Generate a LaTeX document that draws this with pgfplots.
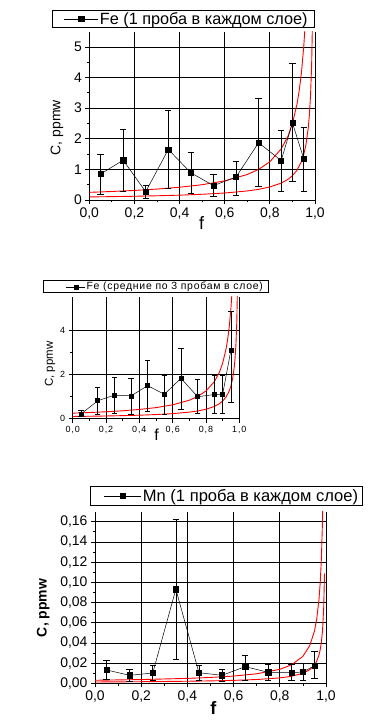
\documentclass[border=0pt]{standalone}
\usepackage{fontspec}
\setmainfont{Liberation Sans}
\usepackage{pgfplots}
\usepackage{pgfplotstable}
\pgfplotsset{compat=1.18}

% Panel 1: Fe, 1 sample per layer
\pgfplotstableread{
x y ep em
0.05 0.85 0.64 0.67
0.15 1.30 1.02 1.00
0.25 0.27 0.22 0.22
0.35 1.65 1.27 1.27
0.45 0.89 0.66 0.67
0.55 0.47 0.37 0.36
0.65 0.75 0.53 0.59
0.75 1.87 1.45 1.41
0.85 1.29 0.98 1.01
0.90 2.52 1.95 1.91
0.95 1.35 1.02 1.05
}\feone

% Panel 2: Fe, mean of 3 samples per layer
\pgfplotstableread{
x y ep em
0.05 0.21 0.15 0.12
0.15 0.81 0.59 0.59
0.25 1.06 0.79 0.82
0.35 1.03 0.78 0.81
0.45 1.49 1.14 1.15
0.55 1.10 0.86 0.89
0.65 1.82 1.37 1.39
0.75 0.99 0.79 0.75
0.85 1.09 0.87 0.85
0.90 1.10 0.86 0.86
0.95 3.10 1.74 2.35
}\fethree

% Panel 3: Mn, 1 sample per layer
\pgfplotstableread{
x y ep em
0.05 0.0132 0.0092 0.0092
0.15 0.0079 0.0059 0.0059
0.25 0.0102 0.0076 0.0076
0.35 0.0932 0.0690 0.0695
0.45 0.0105 0.0073 0.0079
0.55 0.0079 0.0059 0.0059
0.65 0.0165 0.0112 0.0132
0.75 0.0109 0.0082 0.0076
0.85 0.0105 0.0083 0.0072
0.90 0.0112 0.0082 0.0082
0.95 0.0174 0.0142 0.0121
}\mnone

% red curves (Fe)
\pgfplotstableread{
x y
0 0.25
0.1 0.278
0.2 0.3125
0.3 0.357
0.4 0.417
0.5 0.5
0.6 0.625
0.7 0.833
0.75 1.0
0.8 1.25
0.85 1.667
0.88 2.083
0.9 2.5
0.92 3.125
0.93 3.571
0.94 4.167
0.95 5.0
0.955 5.556
0.96 6.25
}\feup
\pgfplotstableread{
x y
0 0.1
0.1 0.11
0.2 0.122
0.3 0.138
0.4 0.158
0.5 0.187
0.6 0.228
0.7 0.296
0.75 0.348
0.8 0.426
0.85 0.551
0.88 0.674
0.9 0.794
0.92 0.971
0.94 1.258
0.95 1.482
0.96 1.812
0.97 2.347
0.975 2.766
0.98 3.381
0.985 4.38
0.99 6.31
}\felow

% red curves (Mn)
\pgfplotstableread{
x y
0 0.003
0.2 0.00371
0.4 0.00487
0.5 0.0058
0.6 0.00716
0.7 0.00942
0.8 0.01384
0.85 0.0182
0.9 0.0267
0.93 0.0375
0.95 0.0517
0.96 0.0638
0.97 0.0839
0.975 0.0998
0.98 0.1233
0.985 0.162
0.99 0.238
}\mnup
\pgfplotstableread{
x y
0 0.0013
0.2 0.00158
0.4 0.00204
0.5 0.00239
0.6 0.00291
0.7 0.00375
0.8 0.00536
0.85 0.0069
0.9 0.00986
0.93 0.0135
0.95 0.0181
0.96 0.0221
0.97 0.0284
0.975 0.0334
0.98 0.0406
0.985 0.0524
0.99 0.0748
0.9935 0.109
}\mnlow

\pgfplotsset{
  panel/.style={
    scale only axis,
    xmin=0, xmax=1, ymin=0,
    axis x line*=bottom, axis y line*=left,
    axis line style={black, line width=0.8bp},
    tick align=outside,
    xtick={0,0.2,0.4,0.6,0.8,1.0},
    minor tick num=1,
    grid=major,
    major grid style={black, line width=0.8bp},
    major tick length=4bp, minor tick length=2.5bp,
    every tick/.style={black, line width=0.8bp},
    /pgf/number format/assume math mode=true,
    /pgf/number format/use comma,
    xticklabel={\pgfmathprintnumber[fixed,fixed zerofill,precision=1,use comma,assume math mode=true]{\tick}},
    legend cell align=left,
  },
  datastyle/.style 2 args={black, line width=0.5bp, mark=square*, mark size=#1, mark options={solid,fill=black},
    error bars/.cd, y dir=both, y explicit,
    error bar style={black, line width=0.6bp},
    error mark options={rotate=90, mark size=#2, black, line width=0.6bp}},
  redcurve/.style={red, line width=0.9bp, no markers, forget plot},
}

\begin{document}
\begin{tikzpicture}
\useasboundingbox (0bp,0bp) rectangle (389bp,728bp);

% ---------- Panel 1 ----------
\begin{axis}[panel,
  at={(89.3bp,528bp)}, anchor=south west,
  width=225.7bp, height=168.3bp,
  ymax=5.5, ytick={0,1,2,3,4,5},
  tick label style={font=\fontsize{14}{16}\selectfont},
  ylabel={C, ppmw}, xlabel={f},
  ylabel style={font=\fontsize{14}{16}\selectfont, at={(axis description cs:-0.143,0.43)}, anchor=center, rotate=0},
  xlabel style={font=\fontsize{18}{20}\selectfont, at={(axis description cs:0.498,-0.137)}, anchor=center},
  legend style={at={(1,1)}, anchor=south east, yshift=3.7bp, draw=black, line width=0.8bp,
    font=\fontsize{16.3}{18}\selectfont, inner xsep=5.5bp, inner ysep=0.5bp, nodes={inner sep=1.5bp}, row sep=0pt},
  legend image code/.code={\path (0bp,0bp); \draw[mark repeat=2,mark phase=2,#1] plot coordinates {(6bp,0bp)(23bp,0bp)(40bp,0bp)};},
]
\addplot[redcurve] table[x=x,y=y] {\feup};
\addplot[redcurve] table[x=x,y=y] {\felow};
\addplot[datastyle={2.6bp}{3.2bp}] table[x=x,y=y,y error plus=ep,y error minus=em] {\feone};
\addlegendentry{Fe (1 проба в каждом слое)}
\end{axis}

% ---------- Panel 2 ----------
\begin{axis}[panel,
  at={(72.7bp,309.3bp)}, anchor=south west,
  width=166.6bp, height=122bp,
  ymax=5.5, ytick={0,2,4},
  tick label style={font=\fontsize{9}{10}\selectfont\addfontfeature{LetterSpace=10}},
  ylabel={C, ppmw}, xlabel={f},
  ylabel style={font=\fontsize{11.5}{13}\selectfont, at={(axis description cs:-0.136,0.448)}, anchor=center, rotate=0},
  xlabel style={font=\fontsize{16}{18}\selectfont, at={(axis description cs:0.504,-0.134)}, anchor=center},
  legend style={at={(1,1)}, anchor=south east, xshift=29bp, yshift=3.4bp, draw=black, line width=0.8bp,
    font=\fontsize{10.5}{12}\selectfont\addfontfeature{LetterSpace=7}, inner xsep=4bp, inner ysep=0.5bp, nodes={inner sep=1bp}, row sep=0pt},
  legend image code/.code={\path (0bp,0bp); \draw[mark repeat=2,mark phase=2,#1] plot coordinates {(19bp,0bp)(28.5bp,0bp)(38bp,0bp)};},
]
\addplot[redcurve] table[x=x,y=y] {\feup};
\addplot[redcurve] table[x=x,y=y] {\felow};
\addplot[datastyle={2bp}{2.6bp}] table[x=x,y=y,y error plus=ep,y error minus=em] {\fethree};
\addlegendentry{Fe (средние по 3 пробам в слое)}
\end{axis}

% ---------- Panel 3 ----------
\begin{axis}[panel,
  at={(95bp,44.7bp)}, anchor=south west,
  width=231bp, height=171.6bp,
  ymax=0.17, ytick={0,0.02,0.04,0.06,0.08,0.10,0.12,0.14,0.16},
  yticklabel={\pgfmathprintnumber[fixed,fixed zerofill,precision=2,use comma,assume math mode=true]{\tick}},
  tick label style={font=\fontsize{14}{16}\selectfont},
  ylabel={C, ppmw}, xlabel={f},
  ylabel style={font=\fontsize{14}{16}\selectfont\bfseries, at={(axis description cs:-0.224,0.439)}, anchor=center, rotate=0},
  xlabel style={font=\fontsize{18}{20}\selectfont\bfseries, at={(axis description cs:0.512,-0.146)}, anchor=center},
  legend style={at={(1,1)}, anchor=south east, xshift=37bp, yshift=5.7bp, draw=black, line width=0.8bp,
    font=\fontsize{16.6}{18}\selectfont, inner xsep=3bp, inner ysep=1.5bp, nodes={inner sep=1.5bp}, row sep=0pt},
  legend image code/.code={\path (0bp,0bp); \draw[mark repeat=2,mark phase=2,#1] plot coordinates {(10.5bp,0bp)(29bp,0bp)(47.5bp,0bp)};},
]
\addplot[redcurve] table[x=x,y=y] {\mnup};
\addplot[redcurve] table[x=x,y=y] {\mnlow};
\addplot[datastyle={2.6bp}{3.2bp}] table[x=x,y=y,y error plus=ep,y error minus=em] {\mnone};
\addlegendentry{Mn (1 проба в каждом слое)}
\end{axis}
\end{tikzpicture}
\end{document}
